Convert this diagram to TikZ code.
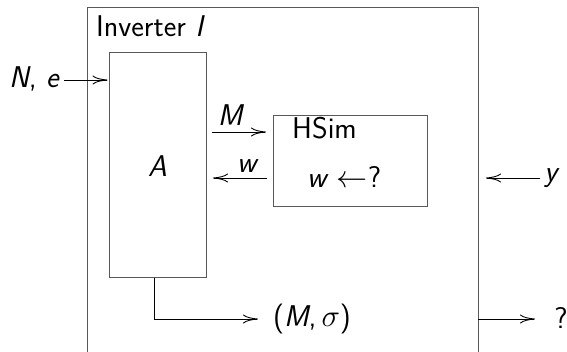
\documentclass[tikz,border=0pt]{standalone}
\usepackage{fontspec}
\usepackage{graphicx}
\usetikzlibrary{arrows.meta}
\renewcommand{\familydefault}{\sfdefault}
\newcommand{\vr}[1]{\textit{#1}}
\begin{document}
\begin{tikzpicture}[x=1pt,y=-1pt,
  font=\fontsize{30}{36}\selectfont\sffamily,
  boxline/.style={draw=black!65,line width=1pt},
  arr/.style={draw=black,line width=0.9pt,-{Computer Modern Rightarrow[length=15pt,width=9pt]}},
  lbl/.style={inner sep=0pt}]
\useasboundingbox (0,0) rectangle (567,351);
\begin{scope}
\clip (0,0) rectangle (567,351);
\draw[boxline] (87,370) -- (87,7) -- (478,7) -- (478,370);
\end{scope}
\node[boxline,minimum width=97pt,minimum height=225pt,inner sep=0pt] (A) at (157.5,164.5) {};
\node[lbl] (Alab) at (157.5,166) {\vr{A}};
\node[boxline,minimum width=154pt,minimum height=91pt,inner sep=0pt] (H) at (350.5,160.5) {};
\node[lbl,anchor=base west] (Htit) at (292,138) {HSim};
\node[lbl,anchor=base west] (Hw) at (307,187) {\vr{w}\hspace{8pt}\scalebox{1.25}{$\leftarrow$}?};
\node[lbl,anchor=base west] (title) at (96,36) {Inverter \vr{I}};
\node[lbl,anchor=base east] (Ne) at (60,87) {\vr{N}, \vr{e}};
\node[lbl,anchor=base] (Mlab) at (231,125) {\vr{M}};
\node[lbl,anchor=base] (wlab) at (248,172) {\vr{w}};
\node[lbl] (ylab) at (552,178) {\vr{y}};
\node[lbl] (out) at (312,319) {(\vr{M},\,\scalebox{1.25}{$\sigma$})};
\node[lbl] (q) at (561,318) {?};
\coordinate (Nest) at (64,80);
\coordinate (Mst) at (212,132);
\coordinate (wen) at (213,178);
\coordinate (yst) at (540,178);
\coordinate (yen) at (486,178);
\coordinate (bt) at (154,319);
\coordinate (qst) at (478,319);
\coordinate (qen) at (535,319);
\draw[arr] (Nest) -- ([xshift=-1pt]Nest -| A.west);
\draw[arr] (Mst) -- ([xshift=-7pt]Mst -| H.west);
\draw[arr] ([xshift=-6pt]wen -| H.west) -- (wen);
\draw[arr] (yst) -- (yen);
\draw[arr] (A.south -| bt) -- (bt) -- ++(104,0);
\draw[arr] (qst) -- (qen);
\end{tikzpicture}
\end{document}
